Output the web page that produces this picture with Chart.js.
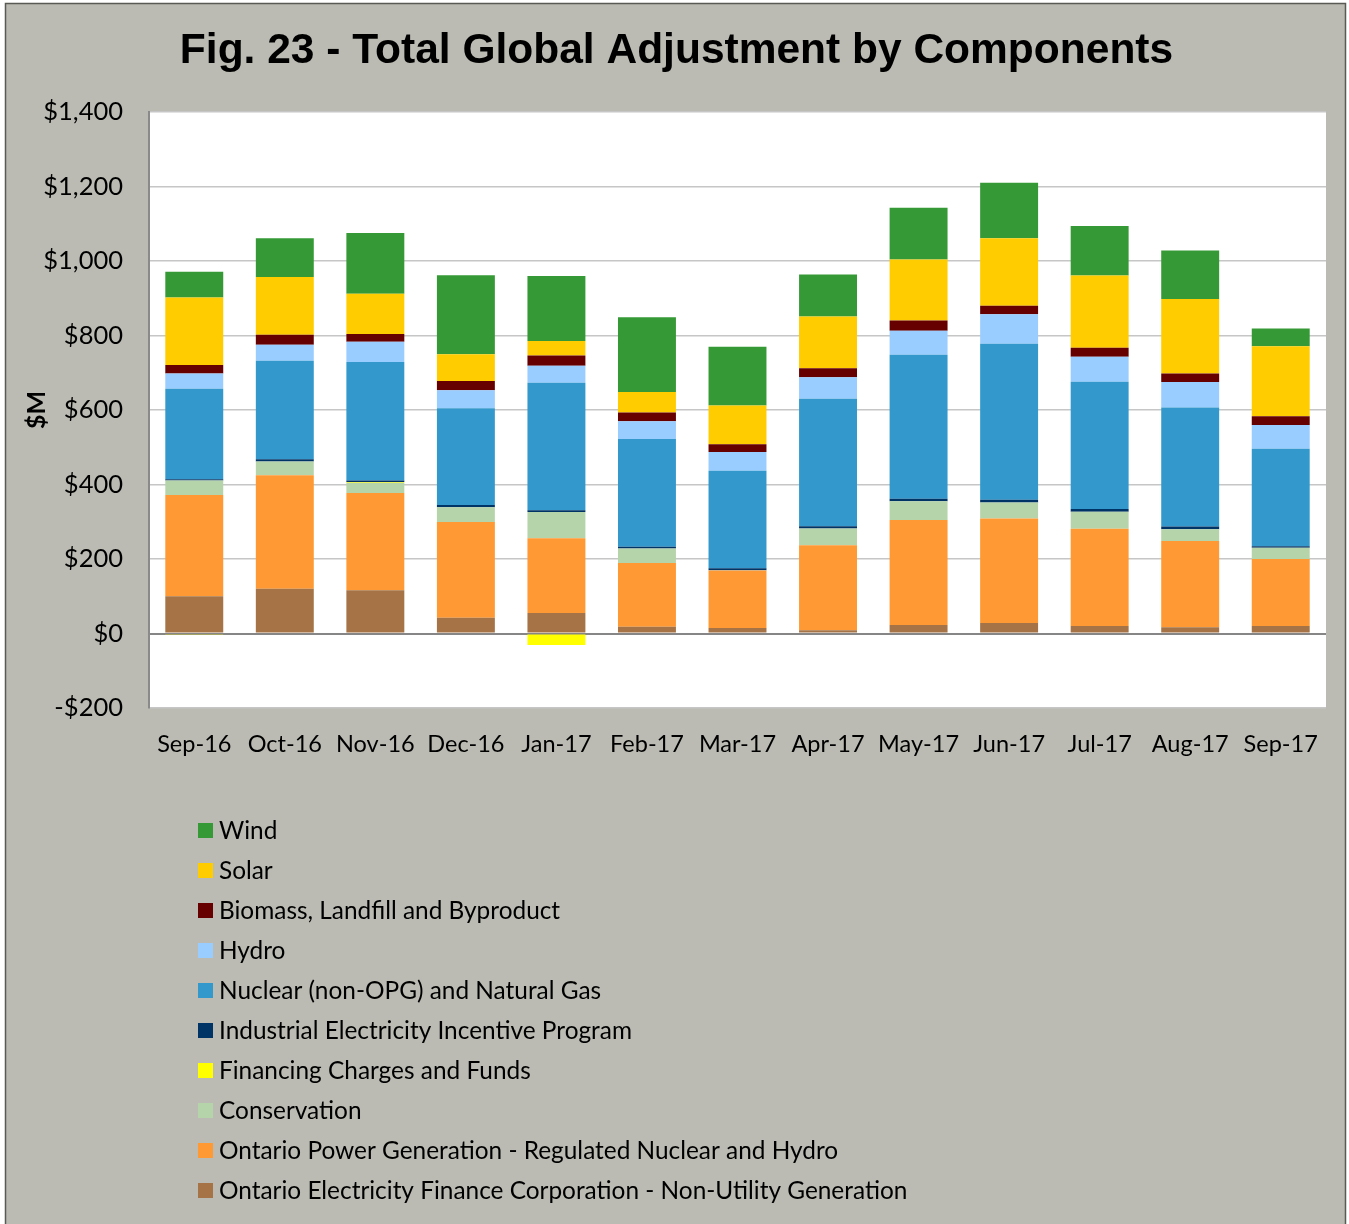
<!DOCTYPE html>
<html>
<head>
<meta charset="utf-8">
<script src="https://cdn.jsdelivr.net/npm/chart.js@4.4.1/dist/chart.umd.min.js"></script>
<style>
  html, body { margin: 0; padding: 0; background: #ffffff; }
  #wrap { position: relative; width: 1349px; height: 1224px; }
</style>
</head>
<body>
<div id="wrap"><canvas id="gaChart"></canvas></div>
<script>
// months on the x axis
const months = ['Sep-16', 'Oct-16', 'Nov-16', 'Dec-16', 'Jan-17', 'Feb-17', 'Mar-17',
  'Apr-17', 'May-17', 'Jun-17', 'Jul-17', 'Aug-17', 'Sep-17'];

// $M per component, listed bottom of the stack first
const oefc = [100, 120, 116, 42, 55, 18, 15, 9, 23, 28, 20, 17, 20];
const opg = [272, 305, 261, 257, 201, 171, 154, 228, 282, 281, 261, 231, 180];
const conservation = [39, 37, 28, 40, 70, 39, 1, 45, 50, 43, 46, 32, 30];
const financing = [-2, 0, 2, 0, -31, 0, 0, 0, 0, 0, 0, 0, 0];
const ieip = [3, 6, 4, 6, 5, 5, 5, 6, 7, 7, 7, 7, 4];
const nuclearGas = [243, 264, 318, 260, 342, 289, 262, 342, 386, 419, 342, 320, 262];
const hydro = [41, 43, 54, 48, 46, 48, 50, 58, 65, 79, 67, 68, 64];
const biomass = [23, 27, 21, 25, 27, 23, 21, 24, 27, 23, 24, 23, 23];
const solar = [181, 155, 108, 72, 39, 55, 104, 139, 164, 181, 194, 200, 188];
const wind = [69, 104, 163, 212, 175, 201, 158, 113, 139, 149, 133, 130, 48];

const yTicks = [-200, 0, 200, 400, 600, 800, 1000, 1200, 1400];

const FONT = 'Lato, "Noto Sans", sans-serif';

const datasets = [
  { label: 'Ontario Electricity Finance Corporation - Non-Utility Generation', data: oefc, backgroundColor: '#A57345' },
  { label: 'Ontario Power Generation - Regulated Nuclear and Hydro', data: opg, backgroundColor: '#FF9933' },
  { label: 'Conservation', data: conservation, backgroundColor: '#B6D4AA' },
  { label: 'Financing Charges and Funds', data: financing, backgroundColor: '#FFFF00' },
  { label: 'Industrial Electricity Incentive Program', data: ieip, backgroundColor: '#003366' },
  { label: 'Nuclear (non-OPG) and Natural Gas', data: nuclearGas, backgroundColor: '#3399CC' },
  { label: 'Hydro', data: hydro, backgroundColor: '#99CCFF' },
  { label: 'Biomass, Landfill and Byproduct', data: biomass, backgroundColor: '#660000' },
  { label: 'Solar', data: solar, backgroundColor: '#FFCC00' },
  { label: 'Wind', data: wind, backgroundColor: '#359A35' }
];

// grey panel + white plot area behind everything
const backdrop = {
  id: 'backdrop',
  beforeDraw(chart) {
    const ctx = chart.ctx;
    const a = chart.chartArea;
    ctx.save();
    ctx.fillStyle = '#BBBBB3';
    ctx.fillRect(5, 3, 1341, 1240);
    ctx.strokeStyle = '#5A5A55';
    ctx.lineWidth = 1.5;
    ctx.strokeRect(5.5, 3.5, 1340, 1240);
    ctx.fillStyle = '#ffffff';
    ctx.fillRect(a.left, a.top, a.right - a.left, a.bottom - a.top);
    ctx.restore();
  }
};

// vertical legend under the plot, top entry = top of the stack
const listLegend = {
  id: 'listLegend',
  afterDraw(chart) {
    const ctx = chart.ctx;
    const sets = chart.data.datasets.slice().reverse();
    ctx.save();
    ctx.font = '24.4px ' + FONT;
    ctx.textBaseline = 'middle';
    sets.forEach((ds, i) => {
      const y = 830 + i * 40;
      ctx.fillStyle = ds.backgroundColor;
      ctx.fillRect(198, y - 7, 15, 15);
      ctx.fillStyle = '#000000';
      ctx.fillText(ds.label, 219, y + 1);
    });
    ctx.restore();
  }
};

new Chart(document.getElementById('gaChart'), {
  type: 'bar',
  data: { labels: months, datasets: datasets },
  options: {
    responsive: true,
    maintainAspectRatio: false,
    animation: false,
    datasets: {
      bar: { categoryPercentage: 1.0, barPercentage: 0.64, borderWidth: 0 }
    },
    layout: { padding: { top: 0, right: 23, bottom: 456, left: 27 } },
    scales: {
      x: {
        stacked: true,
        grid: { display: false, drawTicks: false },
        border: { display: false },
        ticks: { color: '#000000', font: { family: FONT, size: 23.5 }, padding: 22, maxRotation: 0 },
        afterFit(scale) { scale.height = 60; }
      },
      y: {
        stacked: true,
        min: -200,
        max: 1400,
        afterBuildTicks(scale) { scale.ticks = yTicks.map(v => ({ value: v })); },
        grid: {
          drawTicks: false,
          color: ctx => (ctx.tick && ctx.tick.value === 0 ? '#868686' : '#C6C6C6'),
          lineWidth: ctx => (ctx.tick && ctx.tick.value === 0 ? 2 : 1.5)
        },
        border: { display: true, color: '#8A8A8A', width: 2 },
        ticks: {
          color: '#000000',
          font: { family: FONT, size: 25.5 },
          padding: 26,
          callback: v => (v < 0 ? '-$' : '$') + Math.abs(v).toLocaleString('en-US')
        },
        title: {
          display: true,
          text: '$M',
          color: '#000000',
          font: { family: FONT, size: 25, weight: 'bold' },
          padding: { top: -5, bottom: 0 }
        },
        afterFit(scale) { scale.width = 122; }
      }
    },
    plugins: {
      legend: { display: false },
      tooltip: { enabled: false },
      title: {
        display: true,
        text: 'Fig. 23 - Total Global Adjustment by Components',
        color: '#000000',
        font: { family: '"Liberation Sans", Arial, sans-serif', size: 42.5, weight: 'bold' },
        padding: { top: 26, bottom: 35 }
      }
    }
  },
  plugins: [backdrop, listLegend]
});
</script>
</body>
</html>
